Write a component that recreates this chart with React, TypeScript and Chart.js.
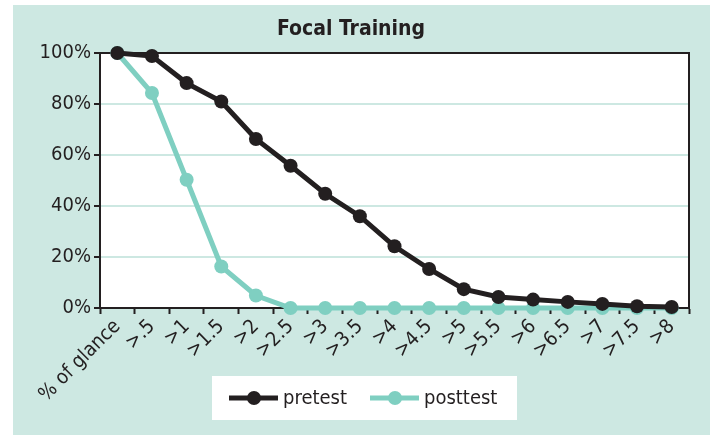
import React, { useEffect, useRef } from "react";
import { Chart, registerables } from "chart.js";

Chart.register(...registerables);

const categories = ["% of glance", ">.5", ">1", ">1.5", ">2", ">2.5", ">3", ">3.5", ">4", ">4.5", ">5", ">5.5", ">6", ">6.5", ">7", ">7.5", ">8"];
const pretest = [100, 98.8, 88.2, 81, 66.3, 55.8, 44.8, 36, 24.2, 15.3, 7.4, 4.3, 3.3, 2.4, 1.6, 0.7, 0.4];
const posttest = [100, 84.3, 50.3, 16.3, 4.9, 0, 0, 0, 0, 0, 0, 0, 0, 0, 0, 0, 0];
const yTicks = [0, 20, 40, 60, 80, 100];
const titleText = "Focal Training";

const DARK = "#231f20";
const TEAL = "#7fcfc1";
const PANEL = "#cde8e2";
const FONT = '"Liberation Sans Narrow", "DejaVu Sans Condensed", "Roboto", sans-serif';

export default function App() {
  const ref = useRef<HTMLCanvasElement | null>(null);
  useEffect(() => {
    if (!ref.current) return;
    const decor = {
      id: "decor",
      beforeDraw(chart: any) {
        const { ctx, chartArea: a } = chart;
        ctx.save();
        ctx.fillStyle = "#ffffff";
        ctx.fillRect(a.left, a.top, a.right - a.left, a.bottom - a.top);
        ctx.restore();
      },
      beforeDatasetsDraw(chart: any) {
        const { ctx, chartArea: a } = chart;
        ctx.save();
        ctx.strokeStyle = DARK;
        ctx.lineWidth = 2;
        ctx.beginPath();
        ctx.moveTo(a.left, a.top);
        ctx.lineTo(a.right, a.top);
        ctx.lineTo(a.right, a.bottom);
        ctx.stroke();
        ctx.restore();
      },
      afterDraw(chart: any) {
        const { ctx } = chart;
        ctx.save();
        // title
        ctx.fillStyle = DARK;
        ctx.font = "bold 21px " + FONT;
        ctx.textAlign = "center";
        ctx.textBaseline = "middle";
        ctx.fillText(titleText, 338, 25);
        // legend box
        ctx.fillStyle = "#ffffff";
        ctx.fillRect(199, 371, 305, 44);
        const items = chart.data.datasets.map((d: any, i: number) => ({
          label: d.label,
          color: d.borderColor,
          x: i === 0 ? 216 : 357,
        }));
        ctx.font = "20px " + FONT;
        ctx.textAlign = "left";
        items.forEach((it: any) => {
          ctx.strokeStyle = it.color;
          ctx.lineWidth = 5;
          ctx.beginPath();
          ctx.moveTo(it.x, 393);
          ctx.lineTo(it.x + 49, 393);
          ctx.stroke();
          ctx.fillStyle = it.color;
          ctx.beginPath();
          ctx.arc(it.x + 25, 393, 7, 0, Math.PI * 2);
          ctx.fill();
          ctx.fillStyle = DARK;
          ctx.fillText(it.label, it.x + 54, 394);
        });
        ctx.restore();
      },
    };
    const chart = new Chart(ref.current, {
      type: "line",
      data: {
        labels: categories,
        datasets: [
          {
            label: "pretest",
            data: pretest,
            borderColor: DARK,
            backgroundColor: DARK,
            pointBackgroundColor: DARK,
            borderWidth: 5,
            pointRadius: 7,
            pointBorderWidth: 0,
            clip: false,
          },
          {
            label: "posttest",
            data: posttest,
            borderColor: TEAL,
            backgroundColor: TEAL,
            pointBackgroundColor: TEAL,
            borderWidth: 5,
            pointRadius: 7,
            pointBorderWidth: 0,
            clip: false,
          },
        ],
      },
      options: {
        responsive: false,
        animation: false,
        layout: { padding: { left: 0, top: 48, right: 21, bottom: 0 } },
        plugins: { legend: { display: false }, title: { display: false }, tooltip: { enabled: false } },
        scales: {
          x: {
            type: "category",
            offset: true,
            afterFit(s: any) {
              s.height = 127;
            },
            grid: { display: true, drawOnChartArea: false, offset: true, tickLength: 6, tickColor: DARK, tickWidth: 2 },
            border: { color: DARK, width: 2 },
            ticks: {
              minRotation: 45,
              maxRotation: 45,
              autoSkip: false,
              padding: 1,
              color: DARK,
              font: { family: FONT, size: 20 },
            },
          },
          y: {
            min: 0,
            max: 100,
            afterFit(s: any) {
              s.width = 87;
            },
            afterBuildTicks(s: any) {
              s.ticks = yTicks.map((v) => ({ value: v }));
            },
            grid: { color: PANEL, lineWidth: 2, tickLength: 6, tickColor: DARK, tickWidth: 2 },
            border: { color: DARK, width: 2 },
            ticks: {
              padding: 3,
              color: DARK,
              font: { family: FONT, size: 20 },
              callback: (v: any) => v + "%",
            },
          },
        },
      },
      plugins: [decor],
    });
    return () => chart.destroy();
  }, []);
  return (
    <div style={{ position: "absolute", left: 13, top: 5, width: 697, height: 430, background: PANEL }}>
      <canvas ref={ref} width={697} height={430} style={{ display: "block" }} />
    </div>
  );
}
